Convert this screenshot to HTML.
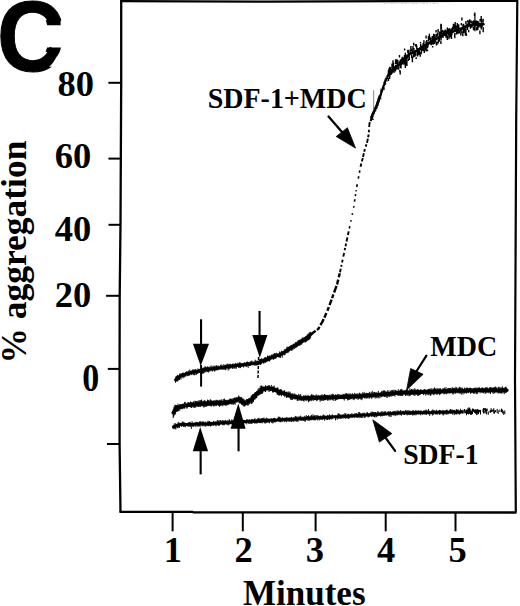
<!DOCTYPE html>
<html><head><meta charset="utf-8"><style>
html,body{margin:0;padding:0;background:#fff;}
body{width:520px;height:606px;overflow:hidden;}
svg{display:block;}
.t{font-family:"Liberation Serif",serif;font-weight:bold;fill:#000;}
.c{font-family:"Liberation Sans",sans-serif;font-weight:bold;fill:#000;}
</style></head><body>
<svg width="520" height="606" viewBox="0 0 520 606">
<rect width="520" height="606" fill="#fff"/>
<polyline points="120.5,1.2 270,1.7 460,0.9 518,0.9" stroke="#000" stroke-width="2.3" fill="none"/>
<polyline points="121.2,0 121.2,82 120.5,224 119.7,296 119.6,369 119.6,444 120.5,512.2" stroke="#000" stroke-width="2.3" fill="none" stroke-linejoin="round"/>
<polyline points="517.3,0 516.2,120 515,380 515.8,512.5" stroke="#000" stroke-width="2.2" fill="none" stroke-linejoin="round"/>
<polyline points="119.5,511.9 192.5,511.8 193.5,512.4 516.5,512.5" stroke="#000" stroke-width="2.3" fill="none"/>
<g stroke="#000" stroke-width="2" fill="none">
<line x1="108.4" y1="82.8" x2="121" y2="82.8"/>
<line x1="108.4" y1="158.6" x2="121" y2="158.6"/>
<line x1="108.5" y1="224.8" x2="120.5" y2="224.8"/>
<line x1="106.1" y1="295.8" x2="119.7" y2="295.8"/>
<line x1="107.8" y1="368.9" x2="119.6" y2="368.9"/>
<line x1="106.9" y1="444" x2="119.6" y2="444"/>
</g>
<g stroke="#000" stroke-width="2" fill="none">
<line x1="172.6" y1="512" x2="172.6" y2="531.3"/>
<line x1="242.8" y1="512" x2="242.8" y2="531.3"/>
<line x1="315.6" y1="512" x2="315.6" y2="531.3"/>
<line x1="385.7" y1="512" x2="385.7" y2="531.3"/>
<line x1="455.5" y1="512" x2="455.5" y2="531.3"/>
</g>
<text class="c" font-size="100" transform="translate(-3.1,71.3) scale(0.93,1)" stroke="#000" stroke-width="1">C</text>
<polygon points="45.8,20.3 60.6,18.3 60.6,25.3 47.2,25.3" fill="#000"/>
<polygon points="47,47.6 60.8,47.6 60.2,51.5 45.6,52" fill="#000"/>
<polygon points="60.6,50 59.6,52 58,55 56.5,57 55,59.5 53.5,62 51.5,64.5 49,66.8 62.5,66.8 62.5,50" fill="#fff"/>
<g class="t" font-size="36.5">
<text x="57.4" y="95.6">80</text>
<text x="54.7" y="168.4">60</text>
<text x="54.8" y="241.1">40</text>
<text x="54.7" y="306.9">20</text>
<text transform="translate(82.34,390.6) scale(0.93,1.07)">0</text>
<text x="163.7" y="562">1</text>
<text x="234.6" y="562">2</text>
<text x="305.8" y="562">3</text>
<text x="377.1" y="562">4</text>
<text x="448.6" y="562">5</text>
</g>
<text class="t" font-size="35" x="243" y="605">Minutes</text>
<text class="t" font-size="36.5" transform="translate(26,363.6) rotate(-90) scale(0.972,1)">% aggregation</text>
<g class="t" font-size="28">
<text transform="translate(207.7,107.5) scale(1,1.05)">SDF-1+MDC</text>
<text transform="translate(430.3,356.2) scale(1,1.05)">MDC</text>
<text transform="translate(403.2,463.7) scale(1,1.05)" font-size="27.7">SDF-1</text>
</g>
<polyline points="175.4,379.8 180.0,376.6 186.6,373.6 199.0,371.1 208.0,369.3 222.7,367.4 245.0,364.4 258.0,363.0 266.5,359.5 272.0,357.2 280.0,354.8 289.6,348.8 299.2,343.1 306.9,338.3 311.0,334.5" fill="none" stroke="#000" stroke-width="2.6" stroke-linejoin="round" stroke-linecap="round" />
<path d="M175.4 377.6L175.4 382.9M175.9 376.6L175.9 381.9M176.3 376.0L176.3 381.2M176.8 376.0L176.8 380.5M177.2 375.4L177.2 381.5M177.7 374.8L177.7 381.4M178.2 375.2L178.2 380.7M178.6 375.8L178.6 379.5M179.1 375.6L179.1 379.9M179.5 373.9L179.5 380.1M180.0 373.4L180.0 378.5M180.5 374.4L180.5 378.3M181.0 373.4L181.0 379.6M181.5 373.4L181.5 377.2M182.0 374.1L182.0 377.3M182.5 372.9L182.5 377.1M183.0 372.7L183.0 378.4M183.6 372.7L183.6 377.2M184.1 373.2L184.1 377.5M184.6 372.9L184.6 376.7M185.1 373.0L185.1 377.1M185.6 372.0L185.6 375.8M186.1 372.3L186.1 375.5M186.6 371.3L186.6 375.4M187.1 371.4L187.1 376.4M187.7 371.8L187.7 375.9M188.2 372.3L188.2 375.8M188.8 370.3L188.8 375.8M189.3 371.5L189.3 375.4M189.8 369.5L189.8 375.4M190.4 371.1L190.4 374.7M190.9 370.9L190.9 373.8M191.5 370.4L191.5 374.9M192.0 371.1L192.0 375.2M192.5 369.5L192.5 373.7M193.1 370.3L193.1 373.5M193.6 369.5L193.6 374.8M194.1 369.5L194.1 375.2M194.7 369.6L194.7 375.3M195.2 369.9L195.2 373.0M195.8 368.9L195.8 374.7M196.3 369.7L196.3 375.0M196.8 370.0L196.8 373.7M197.4 370.4L197.4 373.8M197.9 368.3L197.9 373.7M198.5 369.3L198.5 372.6M199.0 369.2L199.0 372.7M199.5 369.1L199.5 373.0M200.1 368.7L200.1 371.8M200.6 369.1L200.6 373.9M201.1 368.5L201.1 373.0M201.6 367.9L201.6 373.5M202.2 368.2L202.2 374.0M202.7 367.9L202.7 373.0M203.2 367.8L203.2 373.7M203.8 367.6L203.8 373.2M204.3 367.8L204.3 372.8M204.8 366.5L204.8 371.4M205.4 366.4L205.4 371.9M205.9 367.9L205.9 372.4M206.4 367.1L206.4 371.0M206.9 366.8L206.9 371.6M207.5 366.6L207.5 372.1M208.0 366.6L208.0 371.1M208.5 367.2L208.5 372.5M209.1 367.3L209.1 371.8M209.6 367.2L209.6 370.6M210.2 365.7L210.2 371.3M210.7 367.4L210.7 370.1M211.3 367.9L211.3 371.1M211.8 365.5L211.8 370.3M212.4 366.7L212.4 371.5M212.9 367.0L212.9 371.0M213.4 365.7L213.4 369.6M214.0 367.0L214.0 370.7M214.5 366.2L214.5 371.5M215.1 365.5L215.1 371.2M215.6 366.8L215.6 370.3M216.2 365.9L216.2 369.9M216.7 365.1L216.7 370.5M217.3 366.2L217.3 370.2M217.8 366.7L217.8 369.5M218.3 365.4L218.3 369.9M218.9 367.1L218.9 370.2M219.4 366.6L219.4 369.3M220.0 366.1L220.0 368.9M220.5 365.2L220.5 369.3M221.1 364.3L221.1 370.0M221.6 365.6L221.6 368.9M222.2 365.4L222.2 369.6M222.7 365.7L222.7 368.9M223.2 365.6L223.2 369.9M223.8 364.1L223.8 369.2M224.3 366.2L224.3 369.1M224.9 365.0L224.9 369.9M225.4 364.6L225.4 370.2M226.0 365.3L226.0 369.8M226.5 364.3L226.5 368.4M227.1 365.0L227.1 368.3M227.6 363.5L227.6 368.4M228.1 365.1L228.1 370.7M228.7 363.9L228.7 369.0M229.2 364.0L229.2 369.6M229.8 364.1L229.8 368.1M230.3 363.7L230.3 368.8M230.9 364.9L230.9 367.7M231.4 364.2L231.4 367.4M231.9 365.3L231.9 368.4M232.5 364.0L232.5 368.9M233.0 363.3L233.0 367.5M233.6 364.6L233.6 367.5M234.1 363.9L234.1 368.9M234.7 364.0L234.7 368.3M235.2 363.3L235.2 367.2M235.8 363.1L235.8 368.6M236.3 364.3L236.3 368.6M236.8 363.3L236.8 366.6M237.4 363.9L237.4 366.7M237.9 362.6L237.9 366.8M238.5 363.6L238.5 367.9M239.0 363.3L239.0 366.2M239.6 362.2L239.6 367.8M240.1 363.3L240.1 367.5M240.6 362.6L240.6 368.1M241.2 363.3L241.2 367.0M241.7 363.9L241.7 366.9M242.3 363.5L242.3 366.2M242.8 363.2L242.8 366.8M243.4 362.9L243.4 367.5M243.9 362.9L243.9 367.1M244.5 362.4L244.5 365.6M245.0 362.3L245.0 366.3M245.5 363.0L245.5 366.1M246.1 362.7L246.1 367.1M246.6 362.1L246.6 366.7M247.2 361.3L247.2 366.5M247.7 361.9L247.7 365.5M248.2 362.1L248.2 367.9M248.8 362.5L248.8 365.6M249.3 363.2L249.3 366.1M249.9 361.9L249.9 365.9M250.4 361.2L250.4 366.0M251.0 361.7L251.0 365.0M251.5 361.3L251.5 364.3M252.0 360.4L252.0 365.5M252.6 362.1L252.6 365.0M253.1 361.6L253.1 364.4M253.7 361.7L253.7 364.8M254.2 362.5L254.2 365.8M254.8 360.7L254.8 363.7M255.3 359.7L255.3 365.4M255.8 361.4L255.8 365.5M256.4 361.1L256.4 365.1M256.9 360.4L256.9 365.7M257.5 361.0L257.5 365.1M258.0 360.8L258.0 364.3M258.5 361.9L258.5 364.9M259.0 359.2L259.0 364.9M259.5 359.8L259.5 364.1M260.0 359.1L260.0 364.6M260.5 359.0L260.5 364.9M261.0 358.9L261.0 363.1M261.5 358.4L261.5 364.2M262.0 358.5L262.0 362.8M262.5 359.3L262.5 362.5M263.0 359.3L263.0 363.4M263.5 358.4L263.5 363.3M264.0 359.6L264.0 363.6M264.5 357.5L264.5 362.3M265.0 357.5L265.0 362.5M265.5 357.3L265.5 362.7M266.0 357.0L266.0 362.3M266.5 357.7L266.5 361.9M267.0 357.7L267.0 361.0M267.5 355.6L267.5 361.5M268.0 356.3L268.0 361.1M268.5 356.2L268.5 361.2M269.0 355.6L269.0 361.0M269.5 355.6L269.5 361.5M270.0 356.2L270.0 360.7M270.5 356.7L270.5 359.8M271.0 355.0L271.0 359.9M271.5 355.2L271.5 359.0M272.0 354.2L272.0 359.3M272.5 355.6L272.5 358.5M273.1 354.4L273.1 359.6M273.6 353.9L273.6 359.5M274.1 353.5L274.1 359.3M274.7 353.1L274.7 358.8M275.2 354.7L275.2 358.2M275.7 353.1L275.7 358.9M276.3 352.7L276.3 358.1M276.8 353.8L276.8 357.0M277.3 353.8L277.3 356.7M277.9 353.2L277.9 356.4M278.4 353.7L278.4 357.3M278.9 353.2L278.9 357.3M279.5 351.5L279.5 357.3M280.0 353.5L280.0 357.6M280.5 352.5L280.5 357.8M280.9 351.9L280.9 356.1M281.4 350.7L281.4 356.1M281.8 351.7L281.8 355.6M282.3 351.5L282.3 357.7M282.7 351.2L282.7 354.8M283.2 351.4L283.2 355.1M283.7 351.3L283.7 354.9M284.1 349.9L284.1 355.3M284.6 349.6L284.6 354.5M285.0 349.0L285.0 355.1M285.5 349.7L285.5 353.5M285.9 348.5L285.9 352.5M286.4 348.9L286.4 353.0M286.9 346.9L286.9 353.4M287.3 347.6L287.3 352.8M287.8 346.7L287.8 351.2M288.2 346.7L288.2 352.9M288.7 347.0L288.7 351.9M289.1 347.0L289.1 351.3M289.6 345.9L289.6 351.3M290.1 346.3L290.1 350.5M290.6 345.7L290.6 349.4M291.0 345.0L291.0 350.6M291.5 345.3L291.5 350.4M292.0 344.6L292.0 350.9M292.5 344.7L292.5 349.0M293.0 345.4L293.0 350.0M293.4 343.9L293.4 348.4M293.9 343.7L293.9 348.1M294.4 343.7L294.4 348.8M294.9 343.5L294.9 348.5M295.4 342.0L295.4 347.7M295.8 343.5L295.8 347.7M296.3 342.3L296.3 347.4M296.8 341.9L296.8 347.3M297.3 341.2L297.3 347.0M297.8 342.1L297.8 345.6M298.2 340.1L298.2 345.4M298.7 340.3L298.7 346.0M299.2 339.9L299.2 345.7M299.7 339.6L299.7 345.4M300.2 340.0L300.2 345.5M300.6 339.5L300.6 344.6M301.1 338.9L301.1 343.5M301.6 339.4L301.6 344.8M302.1 337.6L302.1 343.7M302.6 337.6L302.6 343.0M303.0 338.2L303.0 342.9M303.5 338.4L303.5 342.2M304.0 336.8L304.0 340.7M304.5 337.1L304.5 341.8M305.0 338.5L305.0 342.8M305.5 336.5L305.5 342.0M305.9 336.2L305.9 341.0M306.4 335.7L306.4 341.9M306.9 335.9L306.9 340.8M307.3 334.4L307.3 340.9M307.7 334.8L307.7 339.9M308.1 333.7L308.1 340.2M308.5 334.5L308.5 340.1M308.9 333.3L308.9 340.2M309.4 332.2L309.4 339.4M309.8 334.3L309.8 339.1M310.2 332.9L310.2 338.3M310.6 331.8L310.6 337.6" stroke="#000" stroke-width="0.9" fill="none"/>
<polyline points="311.0,334.5 312.7,333.0 318.5,328.7 322.3,321.9 325.0,316.2 328.5,308.1 331.4,300.0 334.3,292.0 337.2,283.9 340.0,272.3" fill="none" stroke="#000" stroke-width="2.4" stroke-linejoin="round" stroke-linecap="butt" stroke-dasharray="6 1.5 4 2 7 1.5 5 2.5 4 2"/>
<polyline points="340.0,272.3 341.7,264.3 345.1,248.2 349.3,228.5" fill="none" stroke="#000" stroke-width="1.9" stroke-linejoin="round" stroke-linecap="butt" stroke-dasharray="3.6 2.0 2.0 2.4 2.9 3.1 3.8 2.7 2.4 1.8 2.8 2.0 4.2 2.5 3.6 3.5 2.7 2.6 2.4 3.0 2.0 3.1 4.1 3.1 2.2 2.0 3.8 1.7 3.2 2.4 4.4 2.7 4.1 2.1 4.0 2.3 4.3 1.7 4.1 1.9 3.4 2.6 2.4 3.2 2.8 2.1 2.2 2.1 3.2 2.9 2.9 2.9 2.3 2.3 3.2 3.4 4.1 2.8 2.0 2.3 3.8 2.0 3.4 2.4 2.0 3.5 4.0 1.9 3.5 2.1 2.9 2.6 2.7 2.2 3.0 2.8 2.6 1.9 3.8 2.2 4.4 2.6 3.8 2.2 4.1 1.7 2.4 1.7 3.7 2.9 2.4 2.3 4.1 2.7 2.2 2.0 2.4 1.7 3.0 1.6 4.3 2.4 3.3 2.8 3.9 3.1 3.0 2.2 3.0 1.5 3.0 2.9 4.5 3.1 3.7 2.7 2.0 2.2 2.9 2.8 2.3 2.3 3.3 3.1 4.1 2.7 2.4 3.0 4.3 2.6 2.9 2.5 2.4 2.9 4.5 2.5 3.8 3.2 2.5 3.4 3.6 1.9 2.2 2.0 3.4 2.9 2.8 3.4 2.9 2.4 2.3 3.4 2.3 3.3 3.4 2.6 3.4 2.0 4.3 3.5"/>
<polyline points="349.3,228.5 353.5,208.9 356.3,189.3 360.5,166.8" fill="none" stroke="#000" stroke-width="1.6" stroke-linejoin="round" stroke-linecap="butt" stroke-dasharray="2.5 4.6 1.4 5.4 1.7 5.6 1.6 4.5 2.5 3.1 2.1 2.8 1.3 3.1 2.8 5.8 2.3 3.6 2.3 5.1 1.8 4.6 2.5 2.6 1.5 4.1 1.4 3.9 2.1 3.1 2.0 3.4 2.1 3.7 2.2 2.6 2.3 3.0 2.7 4.6 2.0 3.9 2.2 4.9 2.4 5.1 2.0 6.0 2.5 5.5 1.9 4.0 2.1 5.7 2.0 4.3 1.9 5.7 1.7 2.7 2.4 5.7 2.4 4.6 2.4 3.6 2.1 2.7 1.4 4.1 2.0 3.9 1.3 4.9 2.0 3.3 1.7 3.9 1.6 2.7 2.7 5.9 2.3 5.5 1.9 5.3 1.6 5.1 2.1 5.7 1.4 5.3 1.4 4.4 2.7 2.5 1.6 3.5 1.7 2.7 2.6 5.4 1.8 3.7 2.1 2.7 1.2 5.6 1.7 4.2 2.7 5.9 2.0 3.2 1.7 5.7 2.6 3.2 2.5 3.7 2.0 3.1 2.6 6.0 1.5 4.7 1.5 5.6 1.3 2.9 2.4 3.6 2.6 5.5 2.3 3.0 2.3 5.8 1.9 2.8 1.6 3.6 2.3 3.2 1.5 3.3 2.3 5.3 1.8 4.8 2.6 4.6 1.6 3.6 2.7 4.8 1.6 4.7 1.3 5.9"/>
<polyline points="360.5,166.8 362.4,159.6 364.9,148.8 367.0,143.0 368.6,134.8 369.5,123.2 371.5,119.0" fill="none" stroke="#000" stroke-width="1.9" stroke-linejoin="round" stroke-linecap="butt" stroke-dasharray="3.3 2.1 3.6 1.1 3.8 1.6 2.8 2.6 2.3 1.6 4.3 1.5 2.8 2.1 2.6 2.8 5.0 1.1 3.4 2.5 3.2 2.9 3.5 1.4 3.7 2.3 3.1 2.3 4.3 2.0 3.5 2.7 4.1 2.0 4.9 1.3 4.3 1.3 3.8 1.5 3.3 2.5 4.4 2.6 2.7 2.0 2.7 2.2 3.5 1.1 3.8 2.4 3.7 2.7 2.5 1.3 2.1 2.0 3.3 1.9 2.8 2.6 2.2 2.8 3.7 2.1 4.4 1.5 2.4 1.6 2.1 1.6 3.9 2.1 2.8 2.2 2.3 2.6 2.5 1.5 2.5 2.4 4.5 2.6 2.2 1.8 3.1 1.4 4.9 1.1 3.5 2.5 5.0 1.3 3.4 2.5 2.1 1.5 4.7 1.3 3.2 1.6 3.3 1.2 2.1 3.0 4.3 2.5 2.7 1.5 3.7 1.5 3.4 2.9 3.1 1.7 4.9 2.2 2.1 1.8 3.9 1.1 3.0 2.4 4.6 2.2 4.7 1.9 3.2 2.7 3.1 2.6 2.6 1.7 2.6 2.1 2.5 1.4 2.6 1.9 2.9 1.9 5.0 2.4 4.6 1.4 3.1 1.1 4.1 1.7 2.8 1.0 2.5 1.5 3.2 2.8 4.1 1.5 3.1 1.3"/>
<polyline points="371.5,119.0 372.4,115.0 374.8,110.0 377.0,105.0 379.2,98.1" fill="none" stroke="#000" stroke-width="2.6" stroke-linejoin="round" stroke-linecap="round" />
<polyline points="379.2,98.1 381.4,92.1 383.7,86.2 385.1,81.7 386.6,78.8 388.8,74.3" fill="none" stroke="#000" stroke-width="1.8" stroke-linejoin="round" stroke-linecap="round" />
<path d="M372.0 119.1L373.9 119.5M370.3 118.0L373.1 118.7M370.8 117.4L372.7 117.9M370.0 116.6L373.1 117.3M372.2 116.4L373.4 116.6M371.7 115.5L373.3 115.9M371.9 114.8L373.0 115.3M371.5 113.8L373.4 114.7M372.2 113.3L373.7 114.1M372.3 112.6L374.7 113.8M372.6 112.0L375.1 113.2M373.2 111.5L375.0 112.4M373.1 110.7L374.8 111.6M374.6 110.7L375.7 111.2M373.5 109.4L376.3 110.7M373.8 108.8L375.4 109.5M373.2 107.8L375.7 108.9M374.3 107.5L377.4 108.9M375.1 107.1L376.3 107.7M375.7 106.6L377.5 107.5M375.6 105.9L377.7 106.8M375.6 105.1L377.0 105.7M376.0 104.7L378.6 105.5M376.3 104.0L377.6 104.4M376.7 103.4L379.0 104.1M376.5 102.6L378.8 103.3M376.8 101.9L378.7 102.5M377.6 101.4L379.6 102.0M377.4 100.6L379.6 101.3M378.2 100.0L379.8 100.6M377.7 99.1L380.0 99.9M377.9 98.4L380.5 99.3M378.1 97.7L381.3 98.9M379.0 97.3L381.4 98.1M378.2 96.2L380.6 97.1M378.8 95.7L380.8 96.4M380.1 95.4L382.0 96.1M380.2 94.7L381.3 95.1M380.2 93.9L382.0 94.6M380.3 93.2L381.7 93.7M380.7 92.6L382.3 93.2M380.0 91.6L382.2 92.4M380.6 91.0L383.1 92.0M379.9 90.0L382.3 90.9M381.0 89.7L382.7 90.4M380.6 88.8L383.6 90.0M382.1 88.6L384.6 89.6M381.8 87.7L384.7 88.9M382.6 87.3L384.9 88.2M382.6 86.5L384.3 87.2M382.3 85.8L383.9 86.3M382.9 85.3L384.4 85.7M383.5 84.7L384.7 85.1M383.4 84.0L386.0 84.8M383.8 83.4L385.9 84.1M383.3 82.5L386.3 83.5M383.7 82.0L385.9 82.7M384.1 81.2L385.9 82.1M384.2 80.5L385.9 81.4M384.9 80.1L387.5 81.4M384.4 79.1L386.2 80.1M385.5 79.0L387.8 80.2M385.0 78.0L386.8 78.9M386.2 77.8L387.7 78.5M385.8 76.8L388.8 78.3M386.7 76.5L388.0 77.1M386.5 75.6L388.3 76.5M387.3 75.2L390.4 76.7M388.2 74.8L389.2 75.3" stroke="#000" stroke-width="0.9" fill="none"/>
<polyline points="388.8,74.3 391.0,70.5 395.9,67.0 400.9,63.8 405.8,58.6 409.6,54.1 414.5,51.9 419.5,49.2 424.0,46.6 428.1,43.5 436.2,38.8 444.2,34.5 452.3,31.4 460.4,29.0 468.5,25.5 475.2,25.0 481.9,24.3 483.5,24.3" fill="none" stroke="#000" stroke-width="2.6" stroke-linejoin="round" stroke-linecap="round" />
<path d="M388.4 70.3v5.5M388.5 78.3v2.8M389.0 68.2v3.0M389.7 69.9v4.7M389.8 70.3v4.0M389.6 73.5v5.4M389.5 68.5v4.7M389.7 66.7v2.2M389.9 72.5v3.5M390.0 68.9v2.8M390.4 67.3v4.0M390.8 68.8v2.4M390.6 67.8v1.7M391.1 69.8v5.1M392.1 70.4v3.4M392.2 69.8v2.3M392.0 63.6v4.7M392.5 69.0v1.7M393.2 65.2v2.6M393.5 62.4v5.0M393.0 60.3v4.4M393.3 70.2v1.6M394.1 68.0v2.9M394.2 67.8v2.7M394.0 67.8v5.3M395.1 66.2v3.6M395.3 67.6v3.1M395.6 59.3v4.8M395.5 66.2v5.3M395.7 64.7v4.3M395.9 65.6v3.8M396.4 64.7v3.1M396.9 61.3v3.0M396.9 59.3v2.9M397.2 67.7v1.9M397.4 61.9v4.5M397.6 63.4v4.2M397.9 60.0v1.9M398.5 62.3v1.5M398.7 66.6v3.1M399.5 55.1v2.3M399.7 61.3v2.8M400.2 71.2v3.2M399.9 69.9v2.4M400.5 62.3v2.6M400.4 59.2v5.3M400.5 62.4v5.5M401.0 64.6v4.0M401.8 59.8v4.0M401.8 58.6v4.9M402.2 57.1v2.0M402.1 60.2v4.3M402.1 58.8v3.0M402.7 56.8v3.9M402.8 58.8v4.0M403.2 59.4v3.9M403.8 61.4v3.4M403.4 57.9v4.5M404.2 58.2v3.1M404.6 48.6v2.0M404.5 55.1v4.9M404.9 57.4v5.3M404.4 58.2v5.5M405.3 52.8v5.0M405.3 57.4v3.3M405.3 62.9v5.0M405.9 56.7v1.8M406.0 61.1v4.6M406.5 55.9v4.9M406.9 62.4v3.7M406.4 56.6v3.0M406.8 54.4v1.6M406.9 60.4v2.0M407.8 50.0v3.1M408.2 49.7v1.8M408.1 49.7v2.3M408.3 58.8v2.3M407.9 49.8v3.2M408.4 51.5v4.0M409.1 55.6v3.9M409.1 53.3v4.3M409.0 55.1v2.0M409.3 57.2v2.9M410.1 49.4v5.5M410.2 52.1v2.7M410.7 49.2v2.1M410.9 46.0v3.1M411.7 54.6v3.5M411.6 48.8v2.4M412.3 56.4v2.6M412.2 49.2v4.2M412.4 57.0v5.2M412.4 50.8v3.3M413.0 46.0v3.2M413.7 42.7v2.7M413.6 53.3v4.2M413.9 47.9v5.1M414.3 51.3v3.2M414.9 52.8v3.9M415.5 44.3v1.9M415.7 52.8v3.0M415.6 50.9v4.2M416.2 57.3v1.6M416.2 43.9v3.4M416.8 45.6v4.2M417.5 48.5v5.4M417.5 51.6v4.8M418.1 47.9v4.3M418.1 52.2v3.1M418.7 50.3v2.4M418.5 49.5v2.1M418.5 50.7v4.5M419.4 50.0v4.0M419.8 52.5v2.5M419.8 47.3v2.0M420.5 41.9v1.6M420.3 55.1v1.6M420.7 44.1v3.6M421.0 51.8v2.7M421.4 51.2v2.0M421.4 47.3v3.5M421.6 46.6v4.6M422.2 45.4v2.4M422.5 46.2v3.7M422.5 45.8v4.9M423.1 43.1v5.4M423.9 40.3v5.0M423.2 47.9v3.2M424.2 48.2v4.4M424.3 50.8v2.1M425.1 46.5v2.7M425.2 44.2v4.1M424.9 48.4v1.8M425.9 45.6v1.9M426.1 41.2v4.1M426.1 46.1v5.3M426.1 35.5v3.1M426.4 42.3v4.5M426.8 40.1v3.4M427.2 45.4v3.2M427.5 49.6v1.7M427.7 44.0v3.7M427.9 42.3v3.0M428.1 43.2v3.4M428.6 42.4v1.5M428.5 36.1v5.4M429.4 33.7v3.0M429.5 36.0v3.0M430.0 37.3v2.8M430.5 37.4v3.6M430.4 42.3v2.5M430.8 40.1v4.7M431.4 42.7v2.6M432.0 37.8v1.8M432.2 41.5v2.8M432.3 36.0v4.7M432.6 45.9v1.7M433.2 41.1v3.7M433.3 37.5v5.2M432.9 37.9v3.8M434.2 37.8v4.2M433.6 33.7v5.2M434.2 38.4v4.5M434.6 34.3v3.3M434.5 39.6v4.4M435.6 40.5v2.0M435.2 35.9v2.0M436.3 33.7v2.7M436.1 30.1v2.3M436.9 33.8v3.6M436.4 42.0v3.4M437.0 41.8v3.2M437.7 32.6v3.5M438.1 29.1v3.1M438.2 41.4v2.2M438.3 40.1v2.3M438.8 37.2v3.9M439.2 38.6v3.1M439.4 37.0v3.8M439.5 31.4v5.4M440.3 34.6v2.5M440.1 32.2v3.8M440.9 41.1v3.0M441.1 37.2v3.2M441.3 24.3v5.1M441.4 30.6v3.4M442.3 34.4v2.7M442.5 33.0v1.6M442.3 29.8v2.8M443.2 30.6v5.3M443.0 33.3v4.6M443.6 32.2v2.3M444.0 31.0v4.6M444.6 30.8v5.1M444.8 30.4v5.3M445.2 29.7v2.7M444.7 32.5v2.5M445.3 29.4v3.6M445.9 32.1v2.0M446.0 35.1v2.6M446.2 30.4v5.0M447.3 35.2v4.9M447.3 27.6v4.4M448.0 28.3v4.1M448.3 32.7v1.7M448.5 28.7v3.0M448.8 31.7v3.0M448.9 34.0v5.3M449.7 28.3v2.4M450.0 30.1v1.9M449.5 29.0v5.1M449.9 29.1v3.8M450.2 32.6v5.0M450.5 29.6v4.2M451.5 33.7v5.4M451.9 30.1v4.9M451.6 28.3v3.6M452.2 29.4v3.6M452.6 26.8v4.3M452.6 29.5v3.4M453.4 23.8v5.4M453.5 30.4v2.0M454.5 25.4v5.3M454.8 33.0v5.3M454.7 35.2v1.6M455.2 22.1v3.9M454.9 24.1v5.2M456.1 25.4v3.6M456.5 29.5v5.0M455.9 29.8v1.6M456.8 31.0v3.6M457.3 22.9v4.5M457.8 28.9v4.7M457.6 27.4v4.8M458.3 27.2v1.6M458.5 31.2v2.5M458.7 24.2v4.2M459.4 27.6v2.4M459.4 29.0v2.5M459.6 28.7v4.6M460.1 28.2v2.5M460.8 33.0v2.5M460.6 28.6v2.7M461.2 28.9v4.4M461.6 28.8v1.8M461.4 22.9v2.5M461.9 17.4v3.0M462.8 31.2v5.1M463.0 24.2v4.7M463.3 27.7v2.9M463.6 23.7v3.9M464.0 27.9v3.4M463.5 30.2v3.0M463.9 25.1v5.2M465.0 26.5v5.3M465.4 32.7v2.9M465.0 27.8v5.3M465.8 30.2v2.0M465.9 28.3v5.3M465.9 21.1v3.0M466.2 24.2v1.8M466.4 33.2v2.9M467.2 24.3v2.0M467.6 26.2v3.7M467.4 23.5v5.3M467.8 20.1v2.4M468.5 20.7v5.2M468.7 30.1v2.1M469.7 20.4v4.7M469.7 22.5v3.3M470.4 26.5v2.3M469.8 19.3v5.4M470.3 24.8v1.7M471.2 20.6v2.2M471.6 24.3v2.4M471.8 24.2v3.5M471.8 22.2v1.6M472.1 24.9v1.7M472.9 20.9v3.4M472.9 21.4v2.8M473.5 27.1v3.2M473.6 20.3v3.3M474.5 24.7v5.2M474.2 21.2v5.0M474.5 13.3v2.7M474.9 22.2v4.4M475.3 20.5v5.3M476.1 22.9v1.9M476.7 20.5v3.5M476.5 26.9v3.6M477.0 27.7v2.6M477.3 22.8v4.0M477.8 26.6v3.4M477.8 24.3v5.4M478.1 20.9v4.7M479.0 22.8v4.8M479.0 22.6v3.5M479.9 30.5v3.7M480.1 19.1v2.7M480.0 23.0v3.5M480.8 22.9v4.8M481.3 24.1v5.4M481.5 19.6v4.3M481.2 16.1v4.7M482.3 24.3v2.5M482.3 20.7v1.6M483.1 18.8v3.9M483.2 27.0v5.2" stroke="#000" stroke-width="1.4" fill="none"/>
<polyline points="173.2,412.6 176.0,409.0 180.4,406.4 192.8,404.6 208.0,403.3 225.0,402.7 232.7,401.5 238.8,399.3 245.0,403.5 251.2,399.6 257.3,393.5 261.9,389.6 268.1,388.1 274.2,389.6 280.4,392.7 286.5,394.2 292.7,396.5 301.9,398.1 326.2,397.5 349.2,396.7 372.3,395.4 390.0,393.6 400.0,392.8 440.0,391.5 459.2,390.6 507.0,390.2" fill="none" stroke="#000" stroke-width="3.4" stroke-linejoin="round" stroke-linecap="round" />
<path d="M173.2 409.3L173.2 418.1M173.5 409.3L173.5 416.8M173.9 407.4L173.9 416.2M174.2 406.4L174.2 413.2M174.6 408.1L174.6 414.7M174.9 405.0L174.9 414.5M175.3 404.7L175.3 414.4M175.7 405.2L175.7 412.8M176.0 406.8L176.0 411.4M176.5 405.0L176.5 411.8M177.0 405.3L177.0 411.2M177.5 405.3L177.5 411.7M178.0 403.6L178.0 411.0M178.4 406.0L178.4 411.1M178.9 405.0L178.9 411.2M179.4 404.3L179.4 409.3M179.9 404.8L179.9 410.5M180.4 404.1L180.4 409.1M180.9 404.5L180.9 408.6M181.5 404.7L181.5 409.1M182.0 404.1L182.0 407.5M182.6 403.8L182.6 409.3M183.1 403.7L183.1 408.4M183.6 404.6L183.6 408.3M184.2 403.0L184.2 408.8M184.7 401.8L184.7 408.5M185.3 402.0L185.3 406.1M185.8 403.2L185.8 407.1M186.3 404.2L186.3 407.6M186.9 403.1L186.9 408.9M187.4 403.3L187.4 407.7M187.9 402.1L187.9 407.0M188.5 402.2L188.5 405.8M189.0 403.6L189.0 407.1M189.6 402.8L189.6 407.0M190.1 402.1L190.1 406.9M190.6 401.4L190.6 407.3M191.2 402.5L191.2 408.0M191.7 402.0L191.7 407.8M192.3 403.1L192.3 406.5M192.8 402.1L192.8 406.7M193.3 401.5L193.3 407.7M193.9 401.3L193.9 406.6M194.4 403.6L194.4 407.9M195.0 400.7L195.0 407.1M195.5 401.1L195.5 407.5M196.1 401.1L196.1 407.2M196.6 401.4L196.6 406.1M197.1 401.7L197.1 406.0M197.7 400.8L197.7 406.8M198.2 402.1L198.2 407.0M198.8 400.5L198.8 406.9M199.3 400.4L199.3 406.5M199.9 402.3L199.9 406.6M200.4 400.2L200.4 406.9M200.9 400.5L200.9 406.1M201.5 399.5L201.5 405.5M202.0 400.6L202.0 406.4M202.6 401.4L202.6 406.2M203.1 401.3L203.1 405.3M203.7 400.6L203.7 407.4M204.2 402.0L204.2 407.3M204.7 399.9L204.7 406.2M205.3 401.0L205.3 406.9M205.8 400.8L205.8 406.1M206.4 401.6L206.4 406.8M206.9 401.6L206.9 405.3M207.5 399.6L207.5 406.2M208.0 400.1L208.0 405.3M208.5 400.4L208.5 405.9M209.1 400.2L209.1 405.8M209.6 402.3L209.6 406.0M210.2 399.3L210.2 404.1M210.7 399.6L210.7 406.2M211.3 400.6L211.3 406.5M211.8 400.5L211.8 406.2M212.4 400.8L212.4 405.4M212.9 401.9L212.9 405.2M213.5 400.6L213.5 406.1M214.0 400.2L214.0 406.7M214.6 401.3L214.6 405.1M215.1 400.3L215.1 406.1M215.7 400.5L215.7 405.5M216.2 399.7L216.2 406.0M216.8 400.0L216.8 405.7M217.3 400.5L217.3 404.5M217.9 399.9L217.9 404.3M218.4 400.6L218.4 406.0M219.0 401.0L219.0 405.0M219.5 400.2L219.5 406.9M220.1 399.6L220.1 404.4M220.6 400.4L220.6 406.1M221.2 400.5L221.2 405.0M221.7 399.3L221.7 405.7M222.3 400.6L222.3 405.2M222.8 400.7L222.8 406.4M223.4 399.0L223.4 405.2M223.9 400.9L223.9 404.2M224.5 398.5L224.5 405.3M225.0 400.3L225.0 403.9M225.6 399.9L225.6 405.7M226.1 400.0L226.1 405.8M226.7 399.8L226.7 404.8M227.2 400.7L227.2 405.3M227.8 400.1L227.8 404.4M228.3 399.6L228.3 405.0M228.8 400.6L228.8 404.3M229.4 399.4L229.4 403.7M229.9 398.4L229.9 404.4M230.5 398.8L230.5 403.9M231.0 398.9L231.0 403.5M231.6 399.1L231.6 404.2M232.1 398.4L232.1 404.8M232.7 399.8L232.7 403.4M233.2 398.4L233.2 404.1M233.7 398.2L233.7 404.7M234.2 397.9L234.2 403.9M234.7 397.5L234.7 403.0M235.2 397.9L235.2 404.9M235.8 397.7L235.8 402.1M236.3 397.1L236.3 402.5M236.8 397.3L236.8 402.7M237.3 398.0L237.3 401.8M237.8 397.2L237.8 402.1M238.3 396.4L238.3 400.3M238.8 395.4L238.8 402.3M239.2 396.7L239.2 403.0M239.7 397.1L239.7 403.7M240.1 396.8L240.1 402.7M240.6 397.1L240.6 403.6M241.0 398.1L241.0 403.1M241.5 397.3L241.5 404.3M241.9 397.3L241.9 405.0M242.3 399.0L242.3 404.2M242.8 398.6L242.8 405.4M243.2 398.6L243.2 405.7M243.7 400.4L243.7 405.4M244.1 399.1L244.1 406.8M244.6 400.8L244.6 405.9M245.0 400.1L245.0 406.4M245.5 400.6L245.5 404.9M246.0 400.2L246.0 405.2M246.4 398.9L246.4 403.7M246.9 399.8L246.9 404.9M247.4 399.0L247.4 405.6M247.9 399.3L247.9 404.4M248.3 398.8L248.3 405.5M248.8 398.3L248.8 403.7M249.3 398.4L249.3 404.3M249.8 397.7L249.8 403.7M250.2 398.6L250.2 402.8M250.7 397.5L250.7 402.2M251.2 395.6L251.2 404.1M251.6 395.7L251.6 403.8M252.0 396.1L252.0 402.2M252.3 395.0L252.3 403.4M252.7 394.2L252.7 400.1M253.1 393.9L253.1 401.9M253.5 394.3L253.5 402.1M253.9 394.3L253.9 400.2M254.2 394.2L254.2 399.6M254.6 393.1L254.6 398.5M255.0 392.2L255.0 399.6M255.4 392.2L255.4 398.5M255.8 392.4L255.8 398.1M256.2 392.4L256.2 398.3M256.5 391.3L256.5 398.0M256.9 391.1L256.9 397.7M257.3 390.8L257.3 395.7M257.7 390.5L257.7 395.3M258.1 388.9L258.1 395.7M258.6 390.2L258.6 395.4M259.0 387.9L259.0 395.2M259.4 389.8L259.4 394.7M259.8 388.5L259.8 394.3M260.2 386.1L260.2 394.2M260.6 388.1L260.6 394.3M261.1 385.5L261.1 393.8M261.5 385.6L261.5 393.4M261.9 386.8L261.9 393.4M262.4 387.2L262.4 393.7M262.9 385.9L262.9 392.7M263.4 386.6L263.4 391.4M264.0 387.2L264.0 390.8M264.5 386.5L264.5 390.8M265.0 387.0L265.0 391.9M265.5 385.2L265.5 392.1M266.0 387.1L266.0 391.1M266.6 386.0L266.6 390.1M267.1 386.5L267.1 389.9M267.6 385.7L267.6 390.2M268.1 387.8L268.1 391.4M268.7 385.3L268.7 389.5M269.2 385.1L269.2 391.8M269.8 385.9L269.8 390.4M270.3 386.4L270.3 391.4M270.9 387.1L270.9 391.0M271.4 384.9L271.4 390.4M272.0 387.0L272.0 390.5M272.5 386.6L272.5 392.1M273.1 386.1L273.1 393.0M273.6 387.0L273.6 392.0M274.2 385.5L274.2 391.8M274.7 387.4L274.7 391.6M275.2 388.2L275.2 392.0M275.6 388.4L275.6 392.4M276.1 387.7L276.1 391.9M276.6 388.1L276.6 392.3M277.1 388.3L277.1 394.7M277.5 387.4L277.5 394.3M278.0 387.7L278.0 395.0M278.5 389.8L278.5 395.3M279.0 389.2L279.0 394.7M279.4 390.1L279.4 395.7M279.9 389.7L279.9 394.0M280.4 389.1L280.4 395.3M281.0 389.4L281.0 394.4M281.5 389.6L281.5 396.3M282.1 390.3L282.1 395.0M282.6 391.5L282.6 395.1M283.2 391.4L283.2 395.1M283.7 390.8L283.7 395.7M284.3 390.2L284.3 396.3M284.8 390.7L284.8 397.2M285.4 392.7L285.4 396.1M285.9 391.8L285.9 395.6M286.5 391.8L286.5 398.0M287.0 392.1L287.0 397.3M287.5 393.1L287.5 396.9M288.1 391.4L288.1 397.8M288.6 392.8L288.6 396.5M289.1 391.5L289.1 397.9M289.6 393.1L289.6 396.7M290.1 391.8L290.1 398.6M290.6 393.8L290.6 399.7M291.1 393.6L291.1 399.3M291.7 393.8L291.7 399.9M292.2 393.1L292.2 398.5M292.7 394.8L292.7 400.1M293.2 393.7L293.2 398.9M293.8 394.7L293.8 398.6M294.3 393.5L294.3 398.3M294.9 393.7L294.9 399.6M295.4 395.1L295.4 399.0M295.9 394.2L295.9 399.3M296.5 394.8L296.5 398.7M297.0 395.1L297.0 400.5M297.6 395.2L297.6 400.7M298.1 395.7L298.1 401.1M298.7 393.8L298.7 399.4M299.2 394.8L299.2 399.5M299.7 396.0L299.7 400.5M300.3 394.3L300.3 400.5M300.8 394.3L300.8 399.8M301.4 396.5L301.4 400.9M301.9 396.5L301.9 400.8M302.5 396.7L302.5 400.3M303.0 396.9L303.0 400.4M303.6 395.2L303.6 401.2M304.1 396.6L304.1 401.5M304.7 395.5L304.7 399.8M305.2 396.5L305.2 399.9M305.8 394.8L305.8 400.9M306.3 396.5L306.3 400.0M306.9 395.8L306.9 401.2M307.4 395.8L307.4 400.2M308.0 394.8L308.0 399.5M308.5 395.7L308.5 402.3M309.1 395.9L309.1 401.2M309.6 396.0L309.6 401.2M310.2 395.9L310.2 399.4M310.7 395.4L310.7 400.7M311.3 394.6L311.3 401.2M311.8 394.1L311.8 400.1M312.4 395.4L312.4 399.2M312.9 394.8L312.9 400.6M313.5 395.4L313.5 400.7M314.0 395.0L314.0 398.8M314.6 396.3L314.6 400.1M315.2 395.2L315.2 400.1M315.7 395.7L315.7 399.9M316.3 394.3L316.3 400.4M316.8 396.0L316.8 401.2M317.4 396.2L317.4 400.4M317.9 394.8L317.9 400.1M318.5 395.3L318.5 399.2M319.0 395.5L319.0 399.6M319.6 395.5L319.6 399.4M320.1 396.5L320.1 401.8M320.7 395.4L320.7 399.9M321.2 394.8L321.2 401.0M321.8 394.5L321.8 400.6M322.3 395.8L322.3 399.8M322.9 394.6L322.9 401.0M323.4 395.4L323.4 400.3M324.0 395.1L324.0 400.7M324.5 394.0L324.5 400.0M325.1 395.5L325.1 400.0M325.6 394.6L325.6 400.2M326.2 395.2L326.2 398.9M326.7 395.1L326.7 399.7M327.3 395.2L327.3 399.9M327.8 394.8L327.8 401.0M328.4 395.3L328.4 399.7M328.9 395.0L328.9 400.3M329.5 395.2L329.5 398.8M330.0 394.5L330.0 400.4M330.6 396.4L330.6 399.9M331.1 395.3L331.1 399.6M331.7 394.1L331.7 398.9M332.2 394.9L332.2 399.8M332.8 393.6L332.8 400.2M333.3 394.2L333.3 400.9M333.9 395.2L333.9 399.1M334.4 395.2L334.4 398.9M335.0 394.9L335.0 400.5M335.5 394.4L335.5 400.8M336.1 394.6L336.1 398.8M336.6 395.4L336.6 400.1M337.2 395.2L337.2 398.6M337.7 394.0L337.7 399.8M338.2 395.7L338.2 399.1M338.8 394.0L338.8 399.1M339.3 395.8L339.3 399.1M339.9 394.3L339.9 398.7M340.4 395.3L340.4 398.7M341.0 394.9L341.0 399.2M341.5 395.4L341.5 398.7M342.1 394.1L342.1 398.6M342.6 395.4L342.6 398.9M343.2 393.8L343.2 399.1M343.7 394.4L343.7 399.4M344.3 394.4L344.3 400.6M344.8 393.9L344.8 398.8M345.4 393.3L345.4 398.6M345.9 395.0L345.9 398.4M346.5 393.2L346.5 398.6M347.0 393.7L347.0 398.6M347.6 393.8L347.6 400.4M348.1 394.3L348.1 400.2M348.7 393.4L348.7 399.3M349.2 395.7L349.2 399.7M349.8 393.6L349.8 399.9M350.3 393.4L350.3 399.1M350.8 395.5L350.8 398.9M351.4 393.9L351.4 398.8M351.9 395.6L351.9 399.2M352.5 393.3L352.5 398.1M353.1 394.0L353.1 399.6M353.6 394.3L353.6 399.2M354.1 394.8L354.1 400.2M354.7 392.9L354.7 399.1M355.2 393.6L355.2 397.7M355.8 394.3L355.8 398.7M356.4 394.3L356.4 398.7M356.9 393.4L356.9 399.2M357.4 394.6L357.4 397.9M358.0 393.4L358.0 399.8M358.6 395.7L358.6 399.3M359.1 393.4L359.1 398.3M359.6 392.7L359.6 398.7M360.2 393.3L360.2 398.9M360.8 394.1L360.8 399.6M361.3 395.1L361.3 399.1M361.9 393.5L361.9 400.2M362.4 392.4L362.4 398.6M362.9 394.1L362.9 397.6M363.5 393.3L363.5 396.6M364.1 391.9L364.1 397.7M364.6 393.5L364.6 398.3M365.1 392.8L365.1 398.4M365.7 393.6L365.7 397.0M366.2 393.0L366.2 398.8M366.8 392.8L366.8 397.6M367.4 393.1L367.4 398.3M367.9 393.6L367.9 397.7M368.4 392.9L368.4 397.0M369.0 393.2L369.0 398.8M369.6 391.8L369.6 398.1M370.1 392.8L370.1 397.3M370.7 393.7L370.7 397.1M371.2 392.1L371.2 398.6M371.8 393.2L371.8 398.6M372.3 390.8L372.3 397.6M372.9 393.2L372.9 396.4M373.4 392.1L373.4 397.5M374.0 393.9L374.0 397.2M374.5 391.9L374.5 397.2M375.1 392.7L375.1 398.7M375.6 392.7L375.6 397.4M376.2 391.9L376.2 396.3M376.7 394.1L376.7 398.3M377.3 392.9L377.3 396.5M377.8 392.6L377.8 398.0M378.4 391.0L378.4 397.1M378.9 393.3L378.9 398.5M379.5 392.7L379.5 396.0M380.0 393.1L380.0 398.1M380.6 392.3L380.6 396.5M381.1 392.3L381.1 396.6M381.7 391.2L381.7 397.2M382.3 390.8L382.3 396.7M382.8 392.5L382.8 396.2M383.4 390.3L383.4 396.3M383.9 391.1L383.9 396.4M384.5 390.3L384.5 397.0M385.0 392.5L385.0 396.7M385.6 391.2L385.6 396.8M386.1 391.8L386.1 395.8M386.7 391.8L386.7 397.4M387.2 391.3L387.2 398.1M387.8 390.0L387.8 396.2M388.3 391.3L388.3 396.6M388.9 392.0L388.9 395.7M389.4 392.0L389.4 397.1M390.0 390.4L390.0 396.8M390.6 390.9L390.6 395.9M391.1 391.9L391.1 395.2M391.7 390.1L391.7 396.6M392.2 390.3L392.2 396.1M392.8 389.9L392.8 395.9M393.3 391.0L393.3 395.2M393.9 389.6L393.9 396.0M394.4 392.0L394.4 395.9M395.0 389.9L395.0 396.6M395.6 390.0L395.6 393.5M396.1 390.9L396.1 394.3M396.7 390.5L396.7 394.8M397.2 391.1L397.2 395.1M397.8 390.7L397.8 395.4M398.3 389.2L398.3 395.9M398.9 392.0L398.9 395.5M399.4 390.3L399.4 395.7M400.0 390.7L400.0 394.7M400.5 389.6L400.5 395.8M401.1 389.1L401.1 395.7M401.6 389.3L401.6 395.9M402.2 389.4L402.2 395.9M402.7 391.6L402.7 395.8M403.3 391.2L403.3 394.7M403.8 390.1L403.8 394.0M404.4 391.2L404.4 394.7M404.9 390.1L404.9 393.5M405.5 389.9L405.5 396.0M406.0 390.3L406.0 394.9M406.6 390.0L406.6 395.1M407.1 389.1L407.1 395.8M407.7 389.7L407.7 394.7M408.2 390.6L408.2 395.8M408.8 391.2L408.8 394.6M409.3 389.8L409.3 396.4M409.9 388.3L409.9 395.0M410.4 389.9L410.4 395.7M411.0 390.5L411.0 394.2M411.5 388.9L411.5 395.0M412.1 389.3L412.1 394.8M412.6 390.0L412.6 393.6M413.2 388.9L413.2 395.1M413.7 390.6L413.7 394.9M414.2 389.6L414.2 396.0M414.8 388.2L414.8 394.3M415.3 389.3L415.3 395.5M415.9 390.2L415.9 394.2M416.4 390.0L416.4 394.9M417.0 389.2L417.0 393.5M417.5 389.7L417.5 395.6M418.1 388.9L418.1 395.4M418.6 390.1L418.6 395.7M419.2 390.1L419.2 395.1M419.7 390.2L419.7 395.1M420.3 390.1L420.3 394.8M420.8 389.0L420.8 393.8M421.4 390.6L421.4 394.0M421.9 389.6L421.9 393.3M422.5 390.5L422.5 393.9M423.0 390.3L423.0 394.0M423.6 389.8L423.6 395.2M424.1 389.4L424.1 393.6M424.7 388.9L424.7 394.2M425.2 389.5L425.2 393.4M425.8 389.5L425.8 395.7M426.3 390.0L426.3 393.4M426.8 389.9L426.8 394.6M427.4 390.1L427.4 393.4M427.9 389.0L427.9 395.1M428.5 389.0L428.5 394.3M429.0 389.9L429.0 395.3M429.6 388.7L429.6 394.1M430.1 388.8L430.1 394.7M430.7 389.6L430.7 396.0M431.2 388.1L431.2 394.8M431.8 389.4L431.8 393.7M432.3 389.8L432.3 393.1M432.9 388.5L432.9 394.5M433.4 388.7L433.4 394.6M434.0 389.1L434.0 395.3M434.5 387.4L434.5 394.1M435.1 388.3L435.1 393.6M435.6 389.0L435.6 393.6M436.2 388.3L436.2 394.6M436.7 390.1L436.7 394.1M437.3 388.5L437.3 394.8M437.8 388.5L437.8 393.6M438.4 388.6L438.4 393.8M438.9 389.9L438.9 393.9M439.5 388.6L439.5 395.2M440.0 388.3L440.0 393.6M440.5 388.4L440.5 394.4M441.1 389.4L441.1 393.4M441.6 390.0L441.6 393.5M442.2 389.1L442.2 392.9M442.7 388.4L442.7 393.3M443.3 388.5L443.3 392.7M443.8 388.6L443.8 394.4M444.4 387.5L444.4 394.2M444.9 388.7L444.9 393.0M445.5 388.8L445.5 393.5M446.0 387.1L446.0 393.7M446.6 389.4L446.6 394.4M447.1 389.4L447.1 392.9M447.7 388.3L447.7 393.7M448.2 388.0L448.2 392.8M448.8 388.0L448.8 393.4M449.3 388.0L449.3 393.2M449.9 388.1L449.9 393.7M450.4 388.0L450.4 393.0M451.0 388.3L451.0 393.3M451.5 389.3L451.5 393.1M452.1 387.3L452.1 391.2M452.6 387.6L452.6 393.9M453.2 388.0L453.2 394.7M453.7 388.1L453.7 393.0M454.3 387.6L454.3 392.1M454.8 388.6L454.8 393.7M455.4 388.4L455.4 393.6M455.9 386.8L455.9 393.4M456.5 387.7L456.5 391.9M457.0 387.6L457.0 393.2M457.6 388.8L457.6 393.0M458.1 388.6L458.1 393.3M458.7 388.1L458.7 392.3M459.2 387.2L459.2 393.3M459.7 386.8L459.7 393.5M460.3 387.6L460.3 393.3M460.8 387.7L460.8 393.4M461.4 388.4L461.4 394.7M461.9 387.7L461.9 392.4M462.5 387.7L462.5 392.9M463.0 388.9L463.0 394.7M463.6 389.7L463.6 393.1M464.1 388.8L464.1 393.0M464.7 387.5L464.7 393.7M465.2 388.8L465.2 392.6M465.8 388.1L465.8 393.0M466.3 388.2L466.3 393.7M466.9 387.2L466.9 392.8M467.4 388.0L467.4 392.6M468.0 388.1L468.0 393.0M468.5 388.2L468.5 393.1M469.1 388.4L469.1 391.9M469.6 387.8L469.6 391.7M470.2 387.6L470.2 393.3M470.7 388.0L470.7 393.9M471.3 388.1L471.3 392.9M471.8 389.2L471.8 393.0M472.4 389.2L472.4 392.5M472.9 388.0L472.9 393.2M473.5 388.4L473.5 393.3M474.0 388.3L474.0 394.0M474.6 387.9L474.6 393.0M475.1 387.4L475.1 393.7M475.7 388.3L475.7 391.9M476.2 388.2L476.2 393.2M476.8 387.7L476.8 394.3M477.3 387.9L477.3 394.0M477.9 387.8L477.9 392.7M478.4 388.0L478.4 391.6M479.0 387.3L479.0 391.7M479.5 387.5L479.5 392.0M480.1 388.5L480.1 393.4M480.6 388.5L480.6 392.2M481.2 388.0L481.2 392.1M481.7 387.8L481.7 392.6M482.3 387.3L482.3 392.5M482.8 387.9L482.8 392.9M483.4 388.4L483.4 393.3M483.9 388.3L483.9 392.1M484.5 388.4L484.5 392.0M485.0 387.6L485.0 394.1M485.6 387.4L485.6 393.2M486.1 388.7L486.1 392.1M486.7 387.2L486.7 393.2M487.2 387.4L487.2 391.5M487.8 387.8L487.8 392.9M488.3 388.9L488.3 392.3M488.9 388.5L488.9 393.3M489.4 387.4L489.4 392.6M490.0 387.4L490.0 392.5M490.5 387.4L490.5 394.1M491.1 387.0L491.1 392.2M491.6 388.3L491.6 391.9M492.2 387.4L492.2 392.6M492.7 388.0L492.7 392.7M493.3 387.5L493.3 393.9M493.8 387.6L493.8 392.0M494.4 387.5L494.4 393.4M494.9 387.0L494.9 393.2M495.5 386.6L495.5 391.4M496.0 388.4L496.0 392.7M496.6 387.3L496.6 392.4M497.1 388.6L497.1 391.8M497.7 389.0L497.7 392.7M498.2 387.0L498.2 393.7M498.8 386.7L498.8 393.1M499.3 388.8L499.3 393.1M499.9 386.9L499.9 393.1M500.4 388.2L500.4 393.2M501.0 387.5L501.0 393.6M501.5 387.7L501.5 393.3M502.1 387.9L502.1 393.2M502.6 386.3L502.6 392.1M503.2 388.2L503.2 393.4M503.7 388.1L503.7 392.0M504.3 387.5L504.3 394.2M504.8 389.1L504.8 392.4M505.4 387.0L505.4 393.0M505.9 386.7L505.9 393.0M506.5 387.6L506.5 392.5" stroke="#000" stroke-width="0.9" fill="none"/>
<polyline points="173.2,426.9 180.4,424.6 208.0,423.8 234.2,422.2 257.3,421.0 280.0,419.8 303.1,418.6 326.2,417.4 349.2,416.0 372.3,414.6 390.0,413.6 400.0,413.0 436.2,412.4 462.0,411.8" fill="none" stroke="#000" stroke-width="2.4" stroke-linejoin="round" stroke-linecap="round" />
<path d="M173.2 425.0L173.2 429.2M173.7 425.8L173.7 428.3M174.2 423.4L174.2 428.2M174.7 424.7L174.7 429.2M175.3 423.1L175.3 428.4M175.8 424.1L175.8 429.5M176.3 424.4L176.3 427.4M176.8 423.7L176.8 427.3M177.3 424.1L177.3 427.6M177.8 423.3L177.8 428.3M178.3 421.8L178.3 426.5M178.9 423.3L178.9 427.9M179.4 422.7L179.4 428.0M179.9 423.3L179.9 425.9M180.4 422.9L180.4 426.2M181.0 423.3L181.0 425.8M181.5 423.0L181.5 426.8M182.1 421.9L182.1 426.2M182.6 421.5L182.6 425.7M183.2 423.6L183.2 426.6M183.7 421.7L183.7 426.9M184.3 422.6L184.3 426.9M184.8 422.9L184.8 425.4M185.4 422.9L185.4 427.3M185.9 423.5L185.9 426.0M186.5 423.1L186.5 425.9M187.0 423.7L187.0 426.2M187.6 423.1L187.6 425.8M188.1 422.3L188.1 426.9M188.7 422.9L188.7 426.1M189.2 422.0L189.2 425.8M189.8 421.9L189.8 426.7M190.3 422.3L190.3 427.1M190.9 423.2L190.9 425.9M191.4 423.7L191.4 428.9M192.0 421.2L192.0 425.7M192.5 422.7L192.5 426.4M193.1 422.6L193.1 427.0M193.6 423.2L193.6 426.4M194.2 423.1L194.2 426.3M194.8 422.1L194.8 426.0M195.3 423.4L195.3 425.8M195.9 421.9L195.9 427.2M196.4 421.8L196.4 425.7M197.0 422.3L197.0 424.8M197.5 422.2L197.5 426.5M198.1 422.1L198.1 426.4M198.6 422.6L198.6 426.5M199.2 422.5L199.2 425.5M199.7 421.1L199.7 426.5M200.3 421.9L200.3 426.5M200.8 421.1L200.8 424.6M201.4 422.5L201.4 424.8M201.9 421.8L201.9 426.3M202.5 422.0L202.5 425.8M203.0 421.2L203.0 426.4M203.6 421.6L203.6 425.4M204.1 422.5L204.1 425.3M204.7 422.6L204.7 426.4M205.2 421.9L205.2 426.2M205.8 421.5L205.8 426.7M206.3 423.0L206.3 425.7M206.9 422.5L206.9 425.3M207.4 421.8L207.4 426.1M208.0 420.7L208.0 426.0M208.5 421.9L208.5 426.1M209.1 421.4L209.1 426.0M209.6 421.0L209.6 425.6M210.2 422.2L210.2 426.3M210.7 421.8L210.7 426.5M211.3 421.9L211.3 426.1M211.8 422.5L211.8 425.0M212.4 422.1L212.4 425.7M212.9 421.8L212.9 424.2M213.5 420.9L213.5 425.8M214.0 422.0L214.0 424.3M214.6 421.9L214.6 425.1M215.1 421.1L215.1 425.6M215.6 422.6L215.6 425.6M216.2 421.1L216.2 426.3M216.7 422.0L216.7 424.5M217.3 420.3L217.3 424.9M217.8 420.1L217.8 425.4M218.4 420.9L218.4 425.6M218.9 420.4L218.9 425.6M219.5 422.4L219.5 425.7M220.0 420.2L220.0 424.3M220.6 420.0L220.6 424.5M221.1 421.4L221.1 424.1M221.6 421.0L221.6 424.1M222.2 420.3L222.2 424.8M222.7 420.4L222.7 425.1M223.3 420.5L223.3 425.3M223.8 420.8L223.8 424.5M224.4 420.4L224.4 425.2M224.9 421.7L224.9 424.0M225.5 420.2L225.5 424.4M226.0 420.4L226.0 424.4M226.6 421.1L226.6 424.3M227.1 421.2L227.1 424.6M227.6 420.3L227.6 424.7M228.2 420.9L228.2 425.5M228.7 420.4L228.7 424.5M229.3 419.1L229.3 424.3M229.8 419.9L229.8 424.6M230.4 421.4L230.4 424.0M230.9 420.9L230.9 423.4M231.5 419.6L231.5 424.4M232.0 420.6L232.0 423.9M232.6 419.9L232.6 424.9M233.1 421.6L233.1 423.8M233.7 420.4L233.7 424.0M234.2 420.3L234.2 422.8M234.8 419.7L234.8 424.9M235.3 420.1L235.3 424.5M235.8 419.8L235.8 424.6M236.4 419.3L236.4 424.5M236.9 420.1L236.9 423.9M237.5 419.7L237.5 423.9M238.0 420.7L238.0 423.1M238.6 420.5L238.6 423.7M239.2 420.6L239.2 423.2M239.7 419.4L239.7 424.6M240.2 420.7L240.2 424.2M240.8 420.4L240.8 423.0M241.3 419.0L241.3 423.8M241.9 419.4L241.9 423.0M242.4 421.2L242.4 424.0M243.0 420.4L243.0 422.7M243.6 419.8L243.6 423.6M244.1 419.9L244.1 422.8M244.7 420.3L244.7 422.6M245.2 420.0L245.2 423.6M245.8 420.7L245.8 423.2M246.3 420.0L246.3 422.9M246.8 419.0L246.8 424.3M247.4 419.5L247.4 422.3M247.9 419.8L247.9 422.8M248.5 420.7L248.5 423.6M249.1 419.2L249.1 423.9M249.6 419.7L249.6 422.6M250.2 419.8L250.2 424.0M250.7 419.9L250.7 422.8M251.2 419.5L251.2 423.5M251.8 419.0L251.8 424.0M252.3 419.1L252.3 423.3M252.9 419.3L252.9 422.7M253.5 420.0L253.5 423.0M254.0 419.0L254.0 422.7M254.6 418.7L254.6 423.7M255.1 418.3L255.1 423.0M255.7 420.0L255.7 423.4M256.2 419.6L256.2 422.9M256.8 419.2L256.8 423.7M257.3 419.3L257.3 423.1M257.9 418.1L257.9 422.7M258.4 418.3L258.4 422.9M259.0 417.8L259.0 422.1M259.5 419.3L259.5 423.2M260.1 418.8L260.1 422.6M260.6 418.6L260.6 423.1M261.2 418.7L261.2 422.9M261.7 418.4L261.7 422.7M262.3 418.1L262.3 423.4M262.8 418.2L262.8 422.3M263.4 418.4L263.4 422.2M263.9 417.4L263.9 422.4M264.5 418.6L264.5 423.3M265.1 419.5L265.1 421.9M265.6 418.3L265.6 423.5M266.2 419.2L266.2 423.0M266.7 417.5L266.7 422.6M267.3 419.6L267.3 422.1M267.8 418.1L267.8 422.7M268.4 419.5L268.4 422.7M268.9 418.7L268.9 421.2M269.5 418.8L269.5 423.3M270.0 418.9L270.0 421.4M270.6 418.4L270.6 421.5M271.1 418.9L271.1 421.3M271.7 418.2L271.7 423.0M272.2 418.9L272.2 422.3M272.8 418.7L272.8 423.5M273.4 418.0L273.4 422.6M273.9 418.4L273.9 422.2M274.5 417.9L274.5 422.2M275.0 418.9L275.0 421.6M275.6 418.5L275.6 422.5M276.1 419.0L276.1 421.4M276.7 419.3L276.7 421.8M277.2 418.0L277.2 421.2M277.8 418.9L277.8 421.3M278.3 416.6L278.3 421.8M278.9 417.0L278.9 421.2M279.4 416.9L279.4 421.8M280.0 416.8L280.0 422.1M280.6 418.5L280.6 422.1M281.1 417.8L281.1 422.3M281.6 418.8L281.6 421.0M282.2 417.6L282.2 421.5M282.8 417.3L282.8 421.9M283.3 418.1L283.3 420.7M283.9 418.3L283.9 420.8M284.4 417.9L284.4 422.2M284.9 417.7L284.9 421.0M285.5 418.1L285.5 421.5M286.1 417.3L286.1 420.1M286.6 417.5L286.6 422.3M287.2 417.4L287.2 421.4M287.7 418.6L287.7 421.1M288.2 417.8L288.2 420.8M288.8 417.7L288.8 421.8M289.4 417.8L289.4 420.8M289.9 417.4L289.9 421.8M290.4 418.1L290.4 420.7M291.0 417.2L291.0 422.0M291.6 416.8L291.6 421.8M292.1 417.4L292.1 421.0M292.7 418.1L292.7 421.4M293.2 418.2L293.2 421.4M293.8 417.0L293.8 421.9M294.3 417.9L294.3 420.9M294.9 416.7L294.9 421.2M295.4 415.9L295.4 421.2M295.9 418.0L295.9 421.0M296.5 416.6L296.5 421.6M297.1 416.6L297.1 421.4M297.6 419.0L297.6 421.3M298.2 416.4L298.2 421.7M298.7 417.0L298.7 419.3M299.2 417.3L299.2 420.5M299.8 416.3L299.8 420.2M300.4 415.6L300.4 420.5M300.9 417.6L300.9 420.9M301.5 417.5L301.5 419.8M302.0 416.3L302.0 421.1M302.6 417.4L302.6 419.8M303.1 418.1L303.1 420.6M303.7 416.9L303.7 420.9M304.2 416.6L304.2 421.1M304.8 415.8L304.8 421.2M305.3 416.7L305.3 421.8M305.9 417.4L305.9 420.2M306.4 415.1L306.4 420.1M307.0 416.9L307.0 420.3M307.5 416.0L307.5 419.4M308.1 416.2L308.1 421.0M308.6 415.2L308.6 419.3M309.2 417.8L309.2 420.7M309.7 416.1L309.7 420.6M310.2 416.5L310.2 420.1M310.8 415.8L310.8 420.2M311.4 414.9L311.4 420.2M311.9 415.7L311.9 419.2M312.4 416.3L312.4 420.1M313.0 414.2L313.0 419.2M313.6 415.8L313.6 420.3M314.1 415.9L314.1 419.7M314.6 415.2L314.6 420.3M315.2 416.3L315.2 420.2M315.8 415.0L315.8 420.2M316.3 416.4L316.3 418.7M316.9 415.3L316.9 419.4M317.4 415.3L317.4 420.4M317.9 416.5L317.9 419.4M318.5 415.6L318.5 419.2M319.1 415.9L319.1 420.6M319.6 416.4L319.6 419.7M320.1 415.9L320.1 419.2M320.7 415.5L320.7 419.5M321.2 416.4L321.2 420.0M321.8 416.2L321.8 419.3M322.4 415.5L322.4 419.7M322.9 415.7L322.9 419.9M323.4 414.4L323.4 419.1M324.0 415.5L324.0 418.6M324.6 415.4L324.6 420.7M325.1 415.6L325.1 418.9M325.6 415.9L325.6 419.1M326.2 415.9L326.2 420.1M326.7 416.3L326.7 418.5M327.3 415.0L327.3 420.1M327.8 415.1L327.8 419.9M328.4 416.1L328.4 419.2M328.9 415.1L328.9 419.2M329.5 414.4L329.5 419.8M330.0 416.2L330.0 419.3M330.6 415.3L330.6 419.0M331.1 415.3L331.1 418.8M331.7 415.2L331.7 419.6M332.2 414.4L332.2 417.0M332.8 414.8L332.8 419.1M333.3 415.4L333.3 418.3M333.9 415.8L333.9 418.1M334.4 415.3L334.4 417.9M335.0 416.1L335.0 418.5M335.5 415.2L335.5 420.4M336.1 415.3L336.1 418.1M336.6 416.0L336.6 418.3M337.2 414.7L337.2 419.8M337.7 415.0L337.7 418.2M338.2 413.0L338.2 418.3M338.8 414.1L338.8 418.9M339.3 413.6L339.3 418.7M339.9 414.6L339.9 416.8M340.4 415.0L340.4 418.7M341.0 414.3L341.0 418.9M341.5 416.0L341.5 418.3M342.1 414.7L342.1 418.3M342.6 414.8L342.6 417.9M343.2 414.4L343.2 418.7M343.7 414.4L343.7 417.0M344.3 414.8L344.3 418.2M344.8 413.1L344.8 418.1M345.4 414.2L345.4 418.7M345.9 413.2L345.9 418.2M346.5 415.5L346.5 418.2M347.0 414.9L347.0 417.7M347.6 413.9L347.6 418.5M348.1 414.2L348.1 418.4M348.7 413.7L348.7 418.8M349.2 415.5L349.2 418.1M349.8 414.4L349.8 418.4M350.3 414.2L350.3 417.2M350.8 414.4L350.8 417.6M351.4 414.7L351.4 416.9M351.9 412.9L351.9 418.2M352.5 415.1L352.5 417.5M353.1 413.9L353.1 417.7M353.6 414.1L353.6 417.1M354.1 415.0L354.1 417.3M354.7 413.3L354.7 418.2M355.2 414.1L355.2 417.1M355.8 413.0L355.8 417.3M356.4 413.3L356.4 417.0M356.9 413.6L356.9 418.0M357.4 413.9L357.4 417.8M358.0 413.5L358.0 416.2M358.6 412.1L358.6 417.4M359.1 413.8L359.1 418.2M359.6 412.0L359.6 416.6M360.2 413.2L360.2 417.4M360.8 413.4L360.8 417.7M361.3 413.6L361.3 418.0M361.9 413.6L361.9 416.4M362.4 413.6L362.4 417.3M362.9 412.7L362.9 418.0M363.5 413.0L363.5 415.6M364.1 413.5L364.1 415.9M364.6 412.7L364.6 418.0M365.1 414.0L365.1 416.7M365.7 413.9L365.7 417.4M366.2 412.9L366.2 416.5M366.8 412.5L366.8 416.3M367.4 412.1L367.4 416.2M367.9 412.8L367.9 417.3M368.4 413.5L368.4 417.3M369.0 413.6L369.0 417.0M369.6 413.6L369.6 416.7M370.1 413.2L370.1 415.4M370.7 412.5L370.7 415.7M371.2 411.8L371.2 417.0M371.8 412.9L371.8 416.3M372.3 411.5L372.3 416.6M372.9 412.4L372.9 414.8M373.4 411.9L373.4 416.7M374.0 412.5L374.0 416.4M374.5 412.3L374.5 417.2M375.1 411.9L375.1 417.3M375.6 412.1L375.6 415.6M376.2 412.4L376.2 417.2M376.7 413.5L376.7 416.9M377.3 412.4L377.3 415.9M377.8 411.2L377.8 416.4M378.4 411.8L378.4 415.6M378.9 413.4L378.9 415.9M379.5 412.5L379.5 415.6M380.0 412.4L380.0 415.5M380.6 412.5L380.6 416.6M381.1 411.3L381.1 415.9M381.7 412.1L381.7 415.7M382.3 411.2L382.3 416.4M382.8 413.1L382.8 415.5M383.4 411.7L383.4 415.9M383.9 412.1L383.9 414.9M384.5 411.6L384.5 415.5M385.0 411.4L385.0 416.1M385.6 411.3L385.6 415.0M386.1 413.0L386.1 415.5M386.7 412.6L386.7 415.5M387.2 411.7L387.2 414.8M387.8 412.4L387.8 415.1M388.3 411.3L388.3 415.5M388.9 411.4L388.9 416.5M389.4 411.6L389.4 415.7M390.0 412.4L390.0 416.9M390.6 411.1L390.6 415.0M391.1 412.1L391.1 417.0M391.7 412.4L391.7 415.4M392.2 411.9L392.2 414.9M392.8 411.2L392.8 415.1M393.3 411.8L393.3 415.5M393.9 410.9L393.9 414.8M394.4 411.2L394.4 414.9M395.0 411.0L395.0 416.2M395.6 411.8L395.6 415.3M396.1 410.6L396.1 415.5M396.7 412.4L396.7 415.0M397.2 411.1L397.2 413.8M397.8 410.3L397.8 415.5M398.3 411.0L398.3 414.7M398.9 410.8L398.9 414.6M399.4 411.3L399.4 413.7M400.0 411.6L400.0 415.3M400.5 410.1L400.5 414.7M401.1 412.1L401.1 414.6M401.6 410.8L401.6 415.7M402.2 411.6L402.2 413.9M402.7 410.9L402.7 414.1M403.3 411.1L403.3 414.7M403.8 410.7L403.8 415.0M404.4 411.6L404.4 414.8M404.9 411.1L404.9 414.9M405.5 410.1L405.5 413.2M406.0 411.7L406.0 413.9M406.6 410.8L406.6 414.8M407.1 410.2L407.1 415.5M407.7 411.5L407.7 414.4M408.2 410.0L408.2 414.6M408.8 412.1L408.8 415.1M409.3 411.0L409.3 414.9M409.9 410.4L409.9 414.6M410.4 410.9L410.4 415.0M411.0 412.3L411.0 414.5M411.5 411.2L411.5 414.4M412.1 412.3L412.1 414.9M412.6 410.4L412.6 415.4M413.2 410.3L413.2 415.3M413.7 410.4L413.7 414.2M414.3 411.0L414.3 415.1M414.8 411.5L414.8 415.2M415.4 410.6L415.4 413.8M415.9 410.0L415.9 415.3M416.5 410.8L416.5 414.4M417.0 411.6L417.0 414.7M417.6 410.9L417.6 413.9M418.1 410.3L418.1 414.2M418.6 410.6L418.6 414.6M419.2 410.7L419.2 414.0M419.7 411.2L419.7 414.3M420.3 411.6L420.3 415.0M420.8 410.2L420.8 415.3M421.4 410.8L421.4 413.8M421.9 410.9L421.9 414.1M422.5 412.3L422.5 414.7M423.0 411.4L423.0 414.5M423.6 410.6L423.6 413.9M424.1 410.4L424.1 414.7M424.7 410.6L424.7 413.6M425.2 410.5L425.2 414.2M425.8 409.6L425.8 414.8M426.3 410.8L426.3 414.8M426.9 409.8L426.9 414.5M427.4 410.7L427.4 413.7M428.0 411.3L428.0 413.5M428.5 409.0L428.5 414.4M429.1 410.8L429.1 413.3M429.6 410.9L429.6 415.9M430.2 411.3L430.2 414.0M430.7 412.0L430.7 414.3M431.3 411.4L431.3 414.2M431.8 410.3L431.8 413.8M432.4 410.5L432.4 415.6M432.9 409.4L432.9 414.6M433.5 410.4L433.5 414.6M434.0 410.4L434.0 413.4M434.6 410.4L434.6 413.0M435.1 411.8L435.1 414.5M435.7 410.9L435.7 414.2M436.2 409.6L436.2 414.4M436.7 410.2L436.7 414.1M437.3 410.8L437.3 414.1M437.8 412.4L437.8 414.8M438.4 410.7L438.4 413.3M438.9 410.2L438.9 413.9M439.5 409.9L439.5 414.8M440.0 410.0L440.0 414.6M440.6 410.3L440.6 413.4M441.1 410.6L441.1 414.2M441.7 410.7L441.7 413.1M442.2 411.3L442.2 414.2M442.8 409.8L442.8 414.8M443.3 410.3L443.3 415.6M443.9 411.2L443.9 414.2M444.4 410.8L444.4 414.1M445.0 410.0L445.0 414.5M445.5 410.7L445.5 413.7M446.1 410.2L446.1 413.3M446.6 409.6L446.6 414.7M447.2 410.8L447.2 414.4M447.7 409.8L447.7 413.7M448.3 411.0L448.3 414.4M448.8 411.3L448.8 413.8M449.4 409.7L449.4 413.4M449.9 410.5L449.9 412.8M450.5 409.0L450.5 413.6M451.0 410.2L451.0 414.0M451.6 409.6L451.6 413.5M452.1 409.8L452.1 412.6M452.7 409.7L452.7 414.7M453.2 410.1L453.2 413.5M453.8 410.1L453.8 412.8M454.3 410.2L454.3 415.2M454.9 409.7L454.9 414.1M455.4 411.1L455.4 413.8M456.0 410.7L456.0 414.6M456.5 409.1L456.5 414.3M457.1 409.8L457.1 413.5M457.6 409.9L457.6 413.6M458.2 409.4L458.2 414.2M458.7 410.9L458.7 413.7M459.3 411.1L459.3 414.6M459.8 410.9L459.8 414.3M460.4 408.7L460.4 413.6M460.9 410.8L460.9 413.4M461.5 410.0L461.5 413.4" stroke="#000" stroke-width="0.9" fill="none"/>
<path d="M462.5 410.8L462.5 413.6M463.0 409.6L463.0 413.2M464.0 410.5L464.0 413.5M464.5 409.0L464.5 411.4M465.0 409.8L465.0 413.1M465.5 411.4L465.5 413.2M466.0 410.2L466.0 412.6M466.5 409.6L466.5 415.2M467.0 410.6L467.0 414.1M467.5 409.4L467.5 413.8M468.0 407.9L468.0 412.6M468.5 408.8L468.5 414.4M469.0 407.2L469.0 412.2M469.5 408.3L469.5 413.9M470.0 408.4L470.0 414.0M470.5 410.6L470.5 414.6M471.0 409.6L471.0 414.8M471.5 411.1L471.5 414.6M472.5 408.5L472.5 414.2M473.5 408.8L473.5 411.9M474.5 409.6L474.5 412.9M475.5 409.7L475.5 413.7M476.0 409.0L476.0 412.6M476.5 409.9L476.5 414.6M477.0 410.9L477.0 415.2M477.5 409.1L477.5 413.0M478.0 410.7L478.0 414.0M478.5 409.6L478.5 414.1M479.5 409.9L479.5 411.8M480.0 410.0L480.0 412.7M480.5 409.9L480.5 414.5M483.0 409.1L483.0 412.1M483.5 408.1L483.5 413.3M484.0 410.9L484.0 413.4M484.5 408.3L484.5 410.2" stroke="#000" stroke-width="1.0" fill="none"/>
<path d="M485.0 410.2L485.0 412.8M485.6 408.0L485.6 411.4M486.1 408.8L486.1 413.8M486.7 409.3L486.7 414.5M487.2 408.6L487.2 410.8M488.3 411.5L488.3 414.6M490.0 410.4L490.0 412.5M490.5 410.3L490.5 412.7M491.1 408.1L491.1 412.2M491.6 409.8L491.6 412.0M492.7 409.6L492.7 411.6M493.3 409.7L493.3 411.5M493.8 408.2L493.8 413.5M494.4 410.3L494.4 413.7M495.5 410.3L495.5 412.3M497.1 408.9L497.1 412.9M498.2 410.2L498.2 413.9M499.9 409.5L499.9 412.0M501.5 408.7L501.5 412.2M502.6 409.5L502.6 413.4M503.7 411.2L503.7 414.9M504.8 410.5L504.8 414.1" stroke="#000" stroke-width="1.0" fill="none"/>
<path d="M474.9 12.4V31.2M440.9 23.8V38.6" stroke="#000" stroke-width="1.2"/>
<path d="M373.7 90.1V109.3" stroke="#888" stroke-width="1"/>
<path d="M384 3.3H438" stroke="#d8d8d8" stroke-width="1.2" stroke-dasharray="2 1.5 1 2 3 1"/>
<g fill="#000" stroke="none">
<rect x="200" y="319.3" width="2.1" height="26"/>
<polygon points="192.9,343.7 209,343.7 200.7,366.1"/>
<rect x="200.1" y="365" width="2" height="21.6"/>
<rect x="258.5" y="310.9" width="2.1" height="26"/>
<polygon points="252.3,335.1 267.4,335.1 259.8,357.8"/>
<path d="M258.6 357 L258 378.3" stroke="#000" stroke-width="1.5" stroke-dasharray="3 1.5" fill="none"/>
<rect x="199.6" y="448" width="2.1" height="26.4"/>
<polygon points="192.8,451.3 208.1,451.3 200.2,426.9"/>
<rect x="237.5" y="426" width="2.1" height="25.3"/>
<polygon points="230.6,428.8 245.6,428.8 238.3,403.5"/>
</g>
<g fill="#000" stroke="#000">
<line x1="328.5" y1="116.5" x2="342" y2="132" stroke-width="2.3" stroke-linecap="round"/>
<polygon points="336.2,136.5 347.4,127.7 355.5,148.1" stroke-width="0.8" stroke-linejoin="round"/>
<line x1="426.4" y1="355.7" x2="416" y2="372" stroke-width="2.2" stroke-linecap="round"/>
<polygon points="410.7,368.5 423.1,374.3 406.6,390" stroke-width="0.8" stroke-linejoin="round"/>
<line x1="395.1" y1="450.8" x2="385" y2="437" stroke-width="2.2" stroke-linecap="round"/>
<polygon points="379.4,442.1 391.8,433.6 372.8,419.8" stroke-width="0.8" stroke-linejoin="round"/>
</g>
</svg>
</body></html>
